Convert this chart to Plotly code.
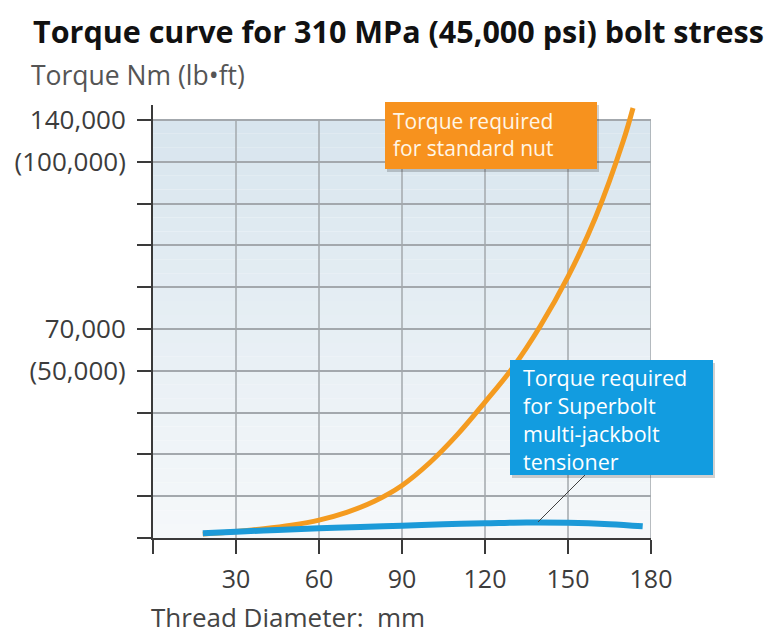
import plotly.graph_objects as go

# ---- data ----
diam_nut = [18, 30, 40, 50, 60, 70, 80, 90, 100, 110, 120, 130, 140, 150, 160, 170, 173.5]
torque_nut = [1300, 2200, 3100, 4300, 6000, 8600, 12300, 17600, 25200, 34600, 45500,
              57000, 71000, 87500, 107500, 133000, 144000]
diam_sb = [18, 30, 45, 60, 75, 90, 105, 120, 135, 150, 165, 177]
torque_sb = [1600, 2100, 2700, 3300, 3700, 4100, 4600, 4900, 5200, 5100, 4600, 3900]

x_tickvals = [0, 30, 60, 90, 120, 150, 180]
x_ticktext = ["", "30", "60", "90", "120", "150", "180"]
y_tickvals = [0, 14000, 28000, 42000, 56000, 70000, 84000, 98000, 112000, 126000, 140000]
y_ticktext = ["", "", "", "", "(50,000)", "70,000", "", "", "", "(100,000)", "140,000"]

title = "Torque curve for 310 MPa (45,000 psi) bolt stress"
y_title = "Torque Nm (lb\u2022ft)"
x_title = "Thread Diameter:  mm"
nut_label = ["Torque required", "for standard nut"]
sb_label = ["Torque required", "for Superbolt", "multi-jackbolt", "tensioner"]

# ---- layout geometry (page pixels; page body has an 8px margin) ----
O = 8
W, H = 775 - O, 634 - O
L, R, T, B = 153, 651, 105, 538
XMAX, YMAX, YGRID = 180, 145000, 140000


def px(x):
    return (x - L) / (R - L)


def py(y):
    return (B - y) / (B - T)


FONT = "Open Sans"
ORANGE_LINE = "#F49B20"
ORANGE_BOX = "#F7921E"
BLUE_LINE = "#1C9AD8"
BLUE_BOX = "#129CE0"
GRID = "#A3A8AD"
AXIS = "#3A3A3A"

fig = go.Figure()

fig.add_trace(go.Scatter(x=diam_nut, y=torque_nut, mode="lines",
                         line=dict(color=ORANGE_LINE, width=5, shape="spline"),
                         hoverinfo="skip", showlegend=False))
fig.add_trace(go.Scatter(x=diam_sb, y=torque_sb, mode="lines",
                         line=dict(color=BLUE_LINE, width=6, shape="spline"),
                         hoverinfo="skip", showlegend=False))

shapes = []
# gradient background (bands), only up to the top gridline
n = 30
top_c = (216, 229, 238)
bot_c = (245, 248, 250)
for i in range(n):
    f = i / (n - 1)
    c = tuple(round(bot_c[k] + (top_c[k] - bot_c[k]) * f) for k in range(3))
    shapes.append(dict(type="rect", xref="x", yref="y", layer="below",
                       x0=0, x1=XMAX, y0=YGRID * i / n, y1=YGRID * (i + 1) / n,
                       fillcolor="rgb(%d,%d,%d)" % c, line=dict(width=0)))
# vertical gridlines (stop at top gridline)
for xv in x_tickvals[1:]:
    shapes.append(dict(type="line", xref="x", yref="y", layer="between",
                       x0=xv, x1=xv, y0=0, y1=YGRID, line=dict(color=GRID, width=1.5)))


def box(x0, y0, x1, y1, color):
    shapes.append(dict(type="rect", xref="paper", yref="paper", layer="above",
                       x0=px(x0 + 2), x1=px(x1 + 2), y0=py(y1 + 3), y1=py(y0 + 3),
                       fillcolor="rgba(0,0,0,0.18)", line=dict(width=0)))
    shapes.append(dict(type="rect", xref="paper", yref="paper", layer="above",
                       x0=px(x0), x1=px(x1), y0=py(y1), y1=py(y0),
                       fillcolor=color, line=dict(width=0)))


box(385, 102, 597, 169, ORANGE_BOX)
box(510, 360, 713, 475, BLUE_BOX)

# leader line from blue curve to its box
shapes.append(dict(type="line", xref="paper", yref="paper", layer="above",
                   x0=px(538), y0=py(522), x1=px(585), y1=py(475),
                   line=dict(color="#404040", width=1)))

annotations = []
annotations.append(dict(text="<b>%s</b>" % title, xref="paper", yref="paper",
                        x=px(31), y=py(31), xanchor="left", yanchor="middle",
                        showarrow=False, font=dict(family=FONT, size=30.5, color="#111111")))
annotations.append(dict(text=y_title, xref="paper", yref="paper",
                        x=px(29), y=py(75), xanchor="left", yanchor="middle",
                        showarrow=False, font=dict(family=FONT, size=26.5, color="#555555")))
annotations.append(dict(text=x_title, xref="paper", yref="paper",
                        x=px(149), y=py(617), xanchor="left", yanchor="middle",
                        showarrow=False, font=dict(family=FONT, size=26, color="#444444")))
annotations.append(dict(text="<br>".join(nut_label), xref="paper", yref="paper",
                        x=px(391), y=py(134), xanchor="left", yanchor="middle", align="left",
                        showarrow=False, font=dict(family=FONT, size=21, color="#FFF6E6")))
annotations.append(dict(text="<br>".join(sb_label), xref="paper", yref="paper",
                        x=px(521), y=py(419), xanchor="left", yanchor="middle", align="left",
                        showarrow=False, font=dict(family=FONT, size=21.5, color="#FFFFFF")))

fig.update_layout(
    width=W, height=H,
    margin=dict(l=L - O, r=775 - R, t=T - O, b=634 - B, pad=0, autoexpand=False),
    paper_bgcolor="white", plot_bgcolor="white",
    shapes=shapes, annotations=annotations,
    xaxis=dict(range=[0, XMAX], tickvals=x_tickvals, ticktext=x_ticktext,
               showgrid=False, zeroline=False, showline=True, linecolor=AXIS, linewidth=2,
               ticks="outside", ticklen=14, tickwidth=2, tickcolor=AXIS,
               ticklabelstandoff=4, automargin=False,
               tickfont=dict(family=FONT, size=25, color="#3C3C3C"), fixedrange=True),
    yaxis=dict(range=[0, YMAX], tickvals=y_tickvals, ticktext=y_ticktext,
               showgrid=True, gridcolor=GRID, gridwidth=1.5, zeroline=False,
               showline=True, linecolor=AXIS, linewidth=2,
               ticks="outside", ticklen=14, tickwidth=2, tickcolor=AXIS,
               ticklabelstandoff=6, automargin=False,
               tickfont=dict(family=FONT, size=26, color="#3C3C3C"), fixedrange=True),
)

fig.write_html("out.html")
